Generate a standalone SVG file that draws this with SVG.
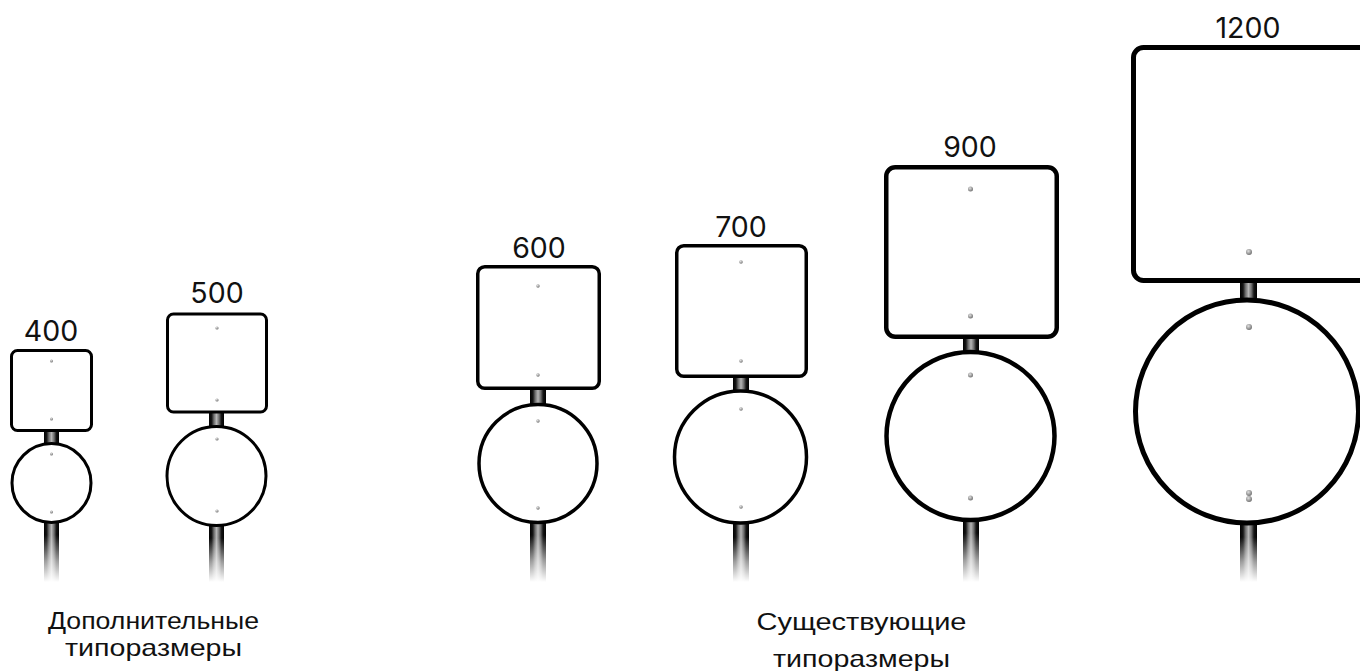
<svg xmlns="http://www.w3.org/2000/svg" width="1360" height="671" viewBox="0 0 1360 671">
<defs>
<linearGradient id="pole" x1="0" y1="0" x2="1" y2="0">
<stop offset="0" stop-color="#000"/>
<stop offset="0.18" stop-color="#151515"/>
<stop offset="0.32" stop-color="#6a6a6a"/>
<stop offset="0.5" stop-color="#b5b5b5"/>
<stop offset="0.68" stop-color="#6a6a6a"/>
<stop offset="0.82" stop-color="#151515"/>
<stop offset="1" stop-color="#000"/>
</linearGradient>
<linearGradient id="fade" x1="0" y1="0" x2="0" y2="1">
<stop offset="0" stop-color="#fff" stop-opacity="0"/>
<stop offset="0.55" stop-color="#fff" stop-opacity="0.6"/>
<stop offset="1" stop-color="#fff" stop-opacity="1"/>
</linearGradient>
<radialGradient id="bolt" cx="0.4" cy="0.35" r="0.7">
<stop offset="0" stop-color="#e0e0e0"/>
<stop offset="0.6" stop-color="#9a9a9a"/>
<stop offset="1" stop-color="#6a6a6a"/>
</radialGradient>
</defs>
<style>
.plate{fill:#fff;stroke:#000}
.bolt{fill:url(#bolt)}
.pole{fill:url(#pole)}
.fade{fill:url(#fade)}
.num{font-family:Inter,Lato,"Liberation Sans",sans-serif;font-size:28.5px;fill:#111;text-anchor:middle}
.cap{font-family:"Liberation Sans",Arial,sans-serif;font-size:24px;fill:#111;text-anchor:middle}
</style>
<rect width="1360" height="671" fill="#fff"/>

<g id="sign-400">
<rect class="pole" x="44" y="425" width="15" height="157"/>
<rect class="fade" x="43" y="535" width="17" height="47"/>
<rect class="plate" x="11.5" y="350.5" width="80" height="80" rx="6" stroke-width="3"/>
<circle class="plate" cx="51.5" cy="483" r="39.5" stroke-width="3"/>
<circle class="bolt" cx="51.5" cy="361" r="1.5"/>
<circle class="bolt" cx="51.5" cy="419" r="1.5"/>
<circle class="bolt" cx="51.5" cy="454" r="1.5"/>
<circle class="bolt" cx="51.5" cy="512" r="1.5"/>
<text class="num" x="51" y="341">400</text>
</g>

<g id="sign-500">
<rect class="pole" x="209" y="405" width="15" height="177"/>
<rect class="fade" x="208" y="538" width="17" height="44"/>
<rect class="plate" x="167.5" y="314" width="99" height="98" rx="6" stroke-width="3"/>
<circle class="plate" cx="216.5" cy="476" r="49.5" stroke-width="3"/>
<circle class="bolt" cx="217" cy="328" r="1.6"/>
<circle class="bolt" cx="217" cy="400" r="1.6"/>
<circle class="bolt" cx="217" cy="439" r="1.6"/>
<circle class="bolt" cx="217" cy="511" r="1.6"/>
<text class="num" x="217" y="303">500</text>
</g>

<g id="sign-600">
<rect class="pole" x="530" y="380" width="16" height="202"/>
<rect class="fade" x="529" y="535" width="18" height="47"/>
<rect class="plate" x="477.75" y="266.75" width="121.5" height="121.5" rx="7" stroke-width="3.5"/>
<circle class="plate" cx="538" cy="463.5" r="59" stroke-width="3.5"/>
<circle class="bolt" cx="538" cy="286" r="1.7"/>
<circle class="bolt" cx="538" cy="375" r="1.7"/>
<circle class="bolt" cx="538" cy="421" r="1.7"/>
<circle class="bolt" cx="538" cy="508" r="1.7"/>
<text class="num" x="539" y="258">600</text>
</g>

<g id="sign-700">
<rect class="pole" x="733" y="370" width="16" height="212"/>
<rect class="fade" x="732" y="537" width="18" height="45"/>
<rect class="plate" x="676.75" y="245.75" width="129.5" height="130.5" rx="7" stroke-width="3.5"/>
<circle class="plate" cx="740.5" cy="457" r="66" stroke-width="3.5"/>
<circle class="bolt" cx="741" cy="262" r="1.8"/>
<circle class="bolt" cx="741" cy="361" r="1.8"/>
<circle class="bolt" cx="741" cy="409" r="1.8"/>
<circle class="bolt" cx="741" cy="507" r="1.8"/>
<text class="num" x="741" y="237">700</text>
</g>

<g id="sign-900">
<rect class="pole" x="963" y="330" width="16" height="252"/>
<rect class="fade" x="962" y="533" width="18" height="49"/>
<rect class="plate" x="886.25" y="167.25" width="170.5" height="169.5" rx="9" stroke-width="4.5"/>
<circle class="plate" cx="970.5" cy="436" r="84" stroke-width="4.5"/>
<circle class="bolt" cx="970.5" cy="189" r="2.5"/>
<circle class="bolt" cx="970.5" cy="316" r="2.5"/>
<circle class="bolt" cx="970.5" cy="375" r="2.5"/>
<circle class="bolt" cx="970.5" cy="498" r="2.5"/>
<text class="num" x="970" y="157">900</text>
</g>

<g id="sign-1200">
<rect class="pole" x="1240" y="275" width="17" height="307"/>
<rect class="fade" x="1239" y="537" width="19" height="45"/>
<rect class="plate" x="1133.5" y="47.5" width="240" height="233" rx="10" stroke-width="5"/>
<circle class="plate" cx="1247" cy="411.5" r="111.5" stroke-width="5"/>
<circle class="bolt" cx="1249" cy="252" r="3"/>
<circle class="bolt" cx="1249" cy="327" r="3"/>
<circle class="bolt" cx="1249" cy="493" r="3"/>
<circle class="bolt" cx="1249" cy="499" r="3"/>
<text class="num" x="1248" y="38">1200</text>
</g>

<g id="caption-additional">
<text class="cap" x="153.5" y="629" textLength="211" lengthAdjust="spacingAndGlyphs">Дополнительные</text>
<text class="cap" x="153.5" y="656" textLength="177" lengthAdjust="spacingAndGlyphs">типоразмеры</text>
</g>
<g id="caption-existing">
<text class="cap" x="861.5" y="630" textLength="210" lengthAdjust="spacingAndGlyphs">Существующие</text>
<text class="cap" x="861.5" y="667" textLength="177" lengthAdjust="spacingAndGlyphs">типоразмеры</text>
</g>
</svg>
